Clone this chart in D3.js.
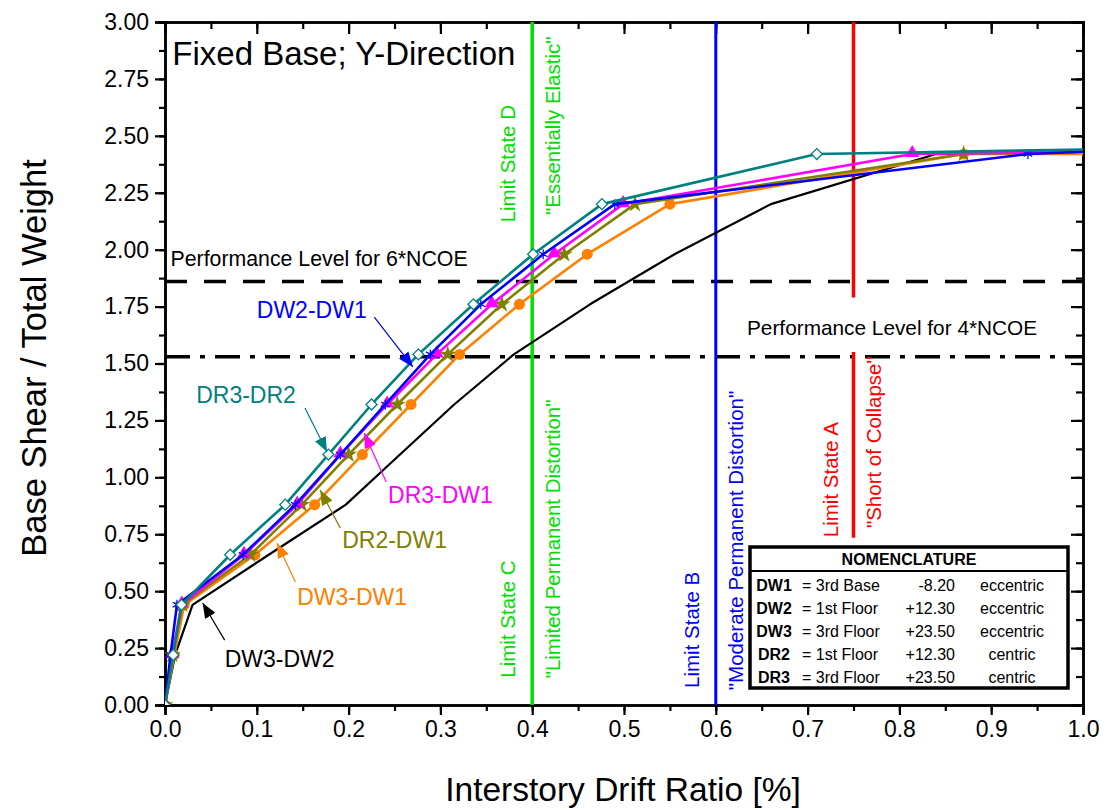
<!DOCTYPE html>
<html>
<head>
<meta charset="utf-8">
<script src="https://cdnjs.cloudflare.com/ajax/libs/d3/7.8.5/d3.min.js"></script>
<style>
  body { margin: 0; background: #fff; }
  svg { font-family: Arial, "Liberation Sans", sans-serif; }
</style>
</head>
<body>
<script>
// data (drift ratio in %, base shear / total weight)
const shearDR3DR2 = [0, 0.22, 0.44, 0.66, 0.88, 1.10, 1.32, 1.54, 1.76, 1.98, 2.20, 2.42, 2.44];
const driftDR3DR2 = [0, 0.009, 0.018, 0.071, 0.131, 0.178, 0.225, 0.276, 0.336, 0.401, 0.476, 0.710, 1.0];

const shearDW2DW1 = [0, 0.22, 0.44, 0.66, 0.88, 1.10, 1.32, 1.54, 1.76, 1.98, 2.20, 2.42, 2.43];
const driftDW2DW1 = [0, 0.006, 0.013, 0.085, 0.142, 0.191, 0.240, 0.289, 0.344, 0.412, 0.490, 0.940, 1.0];

const shearDR3DW1 = [0, 0.22, 0.44, 0.66, 0.88, 1.10, 1.32, 1.54, 1.76, 1.98, 2.20, 2.42, 2.43];
const driftDR3DW1 = [0, 0.008, 0.018, 0.086, 0.144, 0.191, 0.242, 0.296, 0.356, 0.424, 0.499, 0.814, 1.0];

const shearDR2DW1 = [0, 0.22, 0.44, 0.66, 0.88, 1.10, 1.32, 1.54, 1.76, 1.98, 2.20, 2.42, 2.43];
const driftDR2DW1 = [0, 0.008, 0.019, 0.093, 0.149, 0.200, 0.253, 0.308, 0.367, 0.435, 0.512, 0.870, 1.0];

const shearDW3DW1 = [0, 0.22, 0.44, 0.66, 0.88, 1.10, 1.32, 1.54, 1.76, 1.98, 2.20, 2.42, 2.42];
const driftDW3DW1 = [0, 0.010, 0.021, 0.098, 0.163, 0.215, 0.268, 0.321, 0.386, 0.460, 0.550, 0.870, 1.0];

const shearDW3DW2 = [0, 0.22, 0.44, 0.66, 0.88, 1.10, 1.32, 1.54, 1.76, 1.98, 2.20, 2.42, 2.43];
const driftDW3DW2 = [0, 0.011, 0.030, 0.113, 0.197, 0.256, 0.315, 0.380, 0.463, 0.555, 0.660, 0.840, 1.0];

const xTickValues = [0.0, 0.1, 0.2, 0.3, 0.4, 0.5, 0.6, 0.7, 0.8, 0.9, 1.0];
const yTickValues = [0.00, 0.25, 0.50, 0.75, 1.00, 1.25, 1.50, 1.75, 2.00, 2.25, 2.50, 2.75, 3.00];

// performance levels (horizontal) and limit states (vertical)
const perfLabels = ["Performance Level for 6*NCOE", "Performance Level for 4*NCOE"];
const perfValues = [1.86, 1.53];
const limitDrifts = [0.4, 0.6, 0.75];

const nomenNames = ["DW1", "DW2", "DW3", "DR2", "DR3"];
const nomenFloors = ["3rd Base", "1st Floor", "3rd Floor", "1st Floor", "3rd Floor"];
const nomenLevels = ["-8.20", "+12.30", "+23.50", "+12.30", "+23.50"];
const nomenType = ["eccentric", "eccentric", "eccentric", "centric", "centric"];

const width = 1107, height = 810;
const margin = {left: 165, top: 22, right: 24, bottom: 105};

const svg = d3.select("body").append("svg")
    .attr("width", width)
    .attr("height", height);

const x = d3.scaleLinear().domain([0, 1]).range([margin.left, width - margin.right]);
const y = d3.scaleLinear().domain([0, 3]).range([height - margin.bottom, margin.top]);

svg.append("defs").append("clipPath").attr("id", "plot")
  .append("rect")
    .attr("x", x(0)).attr("y", y(3))
    .attr("width", x(1) - x(0)).attr("height", y(0) - y(3));

// axes
const minorX = d3.range(0, 21).map(i => i * 0.05);
const minorY = d3.range(0, 25).map(i => i * 0.125);

function styleAxis(g) {
    g.select(".domain").attr("stroke-width", 2.5);
    g.selectAll(".tick line").attr("stroke-width", 2.2);
    g.selectAll("text").attr("font-size", 23).attr("fill", "#000");
}

svg.append("g").attr("transform", `translate(0,${y(0)})`)
    .call(d3.axisBottom(x).tickValues(minorX).tickSize(6).tickFormat(""))
    .call(styleAxis);
svg.append("g").attr("transform", `translate(0,${y(0)})`)
    .call(d3.axisBottom(x).tickValues(xTickValues).tickSize(10).tickPadding(6).tickFormat(d3.format(".1f")))
    .call(styleAxis);
svg.append("g").attr("transform", `translate(0,${y(3)})`)
    .call(d3.axisTop(x).tickValues(minorX).tickSize(-7).tickFormat(""))
    .call(styleAxis);
svg.append("g").attr("transform", `translate(0,${y(3)})`)
    .call(d3.axisTop(x).tickValues(xTickValues).tickSize(-12).tickFormat(""))
    .call(styleAxis);

svg.append("g").attr("transform", `translate(${x(0)},0)`)
    .call(d3.axisLeft(y).tickValues(minorY).tickSize(6).tickFormat(""))
    .call(styleAxis);
svg.append("g").attr("transform", `translate(${x(0)},0)`)
    .call(d3.axisLeft(y).tickValues(yTickValues).tickSize(10).tickPadding(6).tickFormat(d3.format(".2f")))
    .call(styleAxis);
svg.append("g").attr("transform", `translate(${x(1)},0)`)
    .call(d3.axisRight(y).tickValues(minorY).tickSize(-7).tickFormat(""))
    .call(styleAxis);
svg.append("g").attr("transform", `translate(${x(1)},0)`)
    .call(d3.axisRight(y).tickValues(yTickValues).tickSize(-12).tickFormat(""))
    .call(styleAxis);

svg.append("text")
    .attr("x", 623).attr("y", 801)
    .attr("text-anchor", "middle").attr("font-size", 33.5)
    .text("Interstory Drift Ratio [%]");
svg.append("text")
    .attr("transform", `translate(46,358) rotate(-90)`)
    .attr("text-anchor", "middle").attr("font-size", 34.5)
    .text("Base Shear / Total Weight");

svg.append("text")
    .attr("x", x(0.008)).attr("y", y(2.81))
    .attr("font-size", 33)
    .text("Fixed Base; Y-Direction");

// horizontal performance levels
const perfDash = ["22,17", "25,10,5,10"];
perfValues.forEach((v, i) => {
    svg.append("line")
        .attr("x1", x(0)).attr("x2", x(1))
        .attr("y1", y(v)).attr("y2", y(v))
        .attr("stroke", "#000").attr("stroke-width", 3.5)
        .attr("stroke-dasharray", perfDash[i]);
});
svg.append("text").attr("x", x(0.006)).attr("y", y(1.93))
    .attr("font-size", 21.3).text(perfLabels[0]);
svg.append("text").attr("x", x(0.634)).attr("y", y(1.624))
    .attr("font-size", 20.8).text(perfLabels[1]);

// vertical limit states
const limitColors = ["#00e000", "#0000ff", "#ff0000"];
svg.append("line").attr("x1", x(limitDrifts[0])).attr("x2", x(limitDrifts[0]))
    .attr("y1", y(3)).attr("y2", y(0))
    .attr("stroke", limitColors[0]).attr("stroke-width", 3.5);
svg.append("line").attr("x1", x(limitDrifts[1])).attr("x2", x(limitDrifts[1]))
    .attr("y1", y(3)).attr("y2", y(0))
    .attr("stroke", limitColors[1]).attr("stroke-width", 3);
[[3.0, 1.79], [1.55, 0.735]].forEach(seg => {
    svg.append("line").attr("x1", x(limitDrifts[2])).attr("x2", x(limitDrifts[2]))
        .attr("y1", y(seg[0])).attr("y2", y(seg[1]))
        .attr("stroke", limitColors[2]).attr("stroke-width", 3.5);
});

const limitText = [
    {t: "Limit State D", dx: 0.3815, dy: 2.12, c: 0},
    {t: "\"Essentially Elastic\"", dx: 0.4305, dy: 2.152, c: 0},
    {t: "Limit State C", dx: 0.3815, dy: 0.12, c: 0},
    {t: "\"Limited Permanent Distortion\"", dx: 0.4305, dy: 0.117, c: 0},
    {t: "Limit State B", dx: 0.5815, dy: 0.075, c: 1},
    {t: "\"Moderate Permanent Distortion\"", dx: 0.630, dy: 0.065, c: 1},
    {t: "Limit State A", dx: 0.7335, dy: 0.737, c: 2},
    {t: "\"Short of Collapse\"", dx: 0.7805, dy: 0.777, c: 2}
];
limitText.forEach(d => {
    svg.append("text")
        .attr("transform", `translate(${x(d.dx)},${y(d.dy)}) rotate(-90)`)
        .attr("font-size", 20.5).attr("fill", limitColors[d.c])
        .text(d.t);
});

// curves
const curves = [
    {name: "DW3-DW2", xs: driftDW3DW2, ys: shearDW3DW2, color: "#000000", sym: null, w: 2.2},
    {name: "DW3-DW1", xs: driftDW3DW1, ys: shearDW3DW1, color: "#ff8000", sym: "circle", w: 2.6},
    {name: "DR2-DW1", xs: driftDR2DW1, ys: shearDR2DW1, color: "#808000", sym: "star", w: 2.6},
    {name: "DR3-DW1", xs: driftDR3DW1, ys: shearDR3DW1, color: "#ff00ff", sym: "triangle", w: 2.6},
    {name: "DW2-DW1", xs: driftDW2DW1, ys: shearDW2DW1, color: "#0000ff", sym: "asterisk", w: 2.6},
    {name: "DR3-DR2", xs: driftDR3DR2, ys: shearDR3DR2, color: "#008080", sym: "diamond", w: 2.6}
];

const line = d3.line().x(d => x(d[0])).y(d => y(d[1]));
const plotG = svg.append("g").attr("clip-path", "url(#plot)");

curves.forEach(c => {
    const pts = c.xs.map((v, i) => [v, c.ys[i]]);
    plotG.append("path").datum(pts)
        .attr("d", line)
        .attr("fill", "none")
        .attr("stroke", c.color).attr("stroke-width", c.w)
        .attr("stroke-linejoin", "round");
    if (!c.sym) return;
    const marks = pts.filter(p => p[0] < 1);
    const g = plotG.append("g");
    if (c.sym === "circle") {
        g.selectAll("circle").data(marks).join("circle")
            .attr("cx", d => x(d[0])).attr("cy", d => y(d[1])).attr("r", 5.5)
            .attr("fill", c.color);
    } else if (c.sym === "star") {
        g.selectAll("path").data(marks).join("path")
            .attr("d", d3.symbol(d3.symbolStar, 90))
            .attr("transform", d => `translate(${x(d[0])},${y(d[1])})`)
            .attr("fill", c.color);
    } else if (c.sym === "triangle") {
        g.selectAll("path").data(marks).join("path")
            .attr("d", d3.symbol(d3.symbolTriangle, 85))
            .attr("transform", d => `translate(${x(d[0])},${y(d[1]) - 1})`)
            .attr("fill", c.color);
    } else if (c.sym === "asterisk") {
        g.selectAll("path").data(marks).join("path")
            .attr("d", d3.symbol(d3.symbolAsterisk, 70))
            .attr("transform", d => `translate(${x(d[0])},${y(d[1])})`)
            .attr("fill", "none").attr("stroke", c.color).attr("stroke-width", 1.2);
    } else if (c.sym === "diamond") {
        g.selectAll("path").data(marks).join("path")
            .attr("d", d3.symbol(d3.symbolSquare, 60))
            .attr("transform", d => `translate(${x(d[0])},${y(d[1])}) rotate(45)`)
            .attr("fill", "#fff").attr("stroke", c.color).attr("stroke-width", 1.3);
    }
});

// curve labels with arrows
const labelX = [0.065, 0.144, 0.193, 0.243, 0.100, 0.034];
const labelY = [0.167, 0.439, 0.690, 0.887, 1.700, 1.326];
const arrowFrom = [[0.065, 0.285], [0.142, 0.540], [0.191, 0.777], [0.241, 0.979], [0.228, 1.704], [0.1525, 1.305]];
const arrowTo = [[0.041, 0.448], [0.122, 0.712], [0.169, 0.944], [0.217, 1.195], [0.270, 1.485], [0.1765, 1.111]];

const defs = svg.select("defs");
curves.forEach((c, i) => {
    defs.append("marker")
        .attr("id", "arr" + i)
        .attr("markerUnits", "userSpaceOnUse")
        .attr("markerWidth", 16).attr("markerHeight", 12)
        .attr("refX", 15).attr("refY", 6)
        .attr("orient", "auto")
      .append("path").attr("d", "M0,0 L15,6 L0,12 Z").attr("fill", c.color);

    svg.append("line")
        .attr("x1", x(arrowFrom[i][0])).attr("y1", y(arrowFrom[i][1]))
        .attr("x2", x(arrowTo[i][0])).attr("y2", y(arrowTo[i][1]))
        .attr("stroke", c.color).attr("stroke-width", 1.2)
        .attr("marker-end", `url(#arr${i})`);
    svg.append("text")
        .attr("x", x(labelX[i])).attr("y", y(labelY[i]))
        .attr("font-size", 23).attr("fill", c.color)
        .text(c.name);
});

// nomenclature box
const box = {x: 750, y: 547, w: 318, h: 141};
const nom = svg.append("g");
nom.append("rect")
    .attr("x", box.x).attr("y", box.y).attr("width", box.w).attr("height", box.h)
    .attr("fill", "#fff").attr("stroke", "#000").attr("stroke-width", 3.5);
nom.append("line")
    .attr("x1", box.x).attr("x2", box.x + box.w)
    .attr("y1", box.y + 24).attr("y2", box.y + 24)
    .attr("stroke", "#000").attr("stroke-width", 2);
nom.append("text")
    .attr("x", box.x + box.w / 2).attr("y", box.y + 18)
    .attr("text-anchor", "middle").attr("font-size", 16).attr("font-weight", "bold")
    .text("NOMENCLATURE");
nomenNames.forEach((n, i) => {
    const by = box.y + 44 + i * 23;
    nom.append("text").attr("x", box.x + 24).attr("y", by)
        .attr("text-anchor", "middle").attr("font-size", 16).attr("font-weight", "bold").text(n);
    nom.append("text").attr("x", box.x + 52).attr("y", by)
        .attr("font-size", 16).text("= " + nomenFloors[i]).attr("xml:space", "preserve");
    nom.append("text").attr("x", box.x + 205).attr("y", by)
        .attr("text-anchor", "end").attr("font-size", 16).text(nomenLevels[i]);
    nom.append("text").attr("x", box.x + 262).attr("y", by)
        .attr("text-anchor", "middle").attr("font-size", 16).text(nomenType[i]);
});
</script>
</body>
</html>
